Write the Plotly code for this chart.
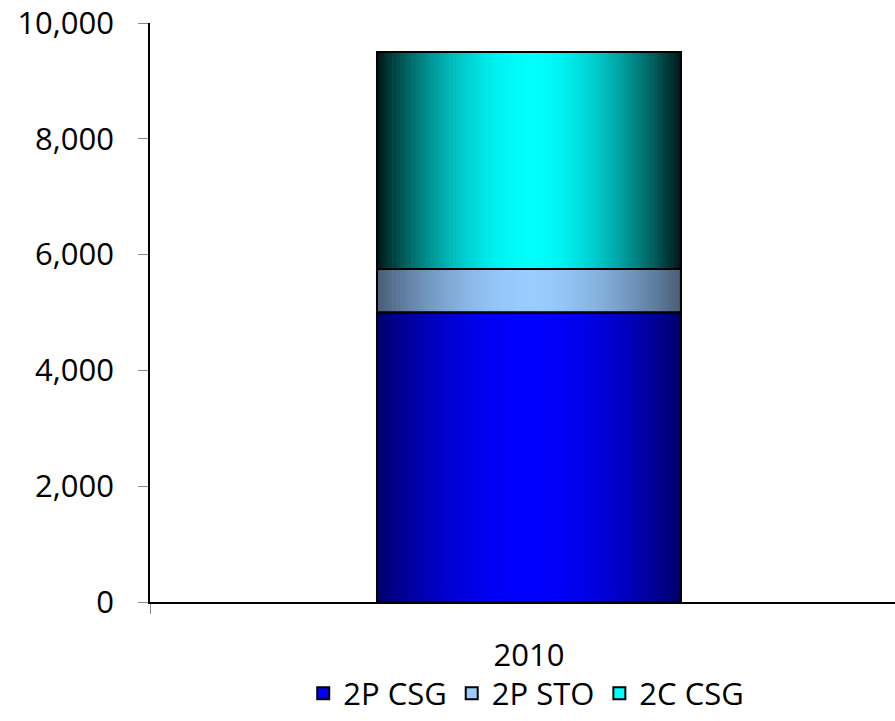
import numpy as np
import plotly.graph_objects as go

# data
categories = ["2010"]
series_names = ["2P CSG", "2P STO", "2C CSG"]
values = [5000, 750, 3750]
y_ticks = [0, 2000, 4000, 6000, 8000, 10000]
y_tick_labels = ["0", "2,000", "4,000", "6,000", "8,000", "10,000"]

# style: centre colour and edge colour of each horizontal gradient
centre_rgb = [(0, 0, 255), (153, 204, 255), (0, 255, 255)]
edge_rgb = [(0, 0, 105), (72, 92, 118), (0, 22, 22)]

BAR_W = 0.401
N_STRIPS = 80
FONT = "Open Sans"


def mix(c1, c2, t):
    return "rgb(%d,%d,%d)" % tuple(round(a * (1 - t) + b * t) for a, b in zip(c1, c2))


bases = np.concatenate([[0], np.cumsum(values)[:-1]])
step = BAR_W / N_STRIPS
offsets = [-BAR_W / 2 + k * step for k in range(N_STRIPS)]
pos = [(o + step / 2) / (BAR_W / 2) for o in offsets]  # -1 .. 1 across the bar

fig = go.Figure()

for name, v, b, c, e in zip(series_names, values, bases, centre_rgb, edge_rgb):
    # solid bar (carries the legend swatch)
    fig.add_trace(go.Bar(
        x=categories, y=[v], base=[b], name=name,
        width=BAR_W, offset=-BAR_W / 2,
        marker=dict(color=mix(c, c, 0), line=dict(color="black", width=2)),
        hoverinfo="skip",
    ))
    # gradient strips over it
    fig.add_trace(go.Bar(
        x=categories * N_STRIPS, y=[v] * N_STRIPS, base=[b] * N_STRIPS,
        offset=offsets, width=[step * 1.15] * N_STRIPS,
        marker=dict(color=[mix(c, e, abs(p) ** 1.8) for p in pos], line=dict(width=0)),
        showlegend=False, hoverinfo="skip",
    ))

# black outlines on top
for v, b in zip(values, bases):
    fig.add_trace(go.Bar(
        x=categories, y=[v], base=[b],
        width=BAR_W, offset=-BAR_W / 2,
        marker=dict(color="rgba(0,0,0,0)", line=dict(color="black", width=2)),
        showlegend=False, hoverinfo="skip",
    ))

fig.update_layout(
    width=895, height=721,
    barmode="overlay",
    plot_bgcolor="white", paper_bgcolor="white",
    margin=dict(l=150, r=0, t=23, b=119, autoexpand=False),
    font=dict(family=FONT, size=31, color="black"),
    legend=dict(
        orientation="h", x=0.505, xanchor="center", y=-0.158, yanchor="middle",
        font=dict(size=31), itemwidth=30, traceorder="normal",
    ),
)

fig.update_xaxes(
    type="category", range=[-0.5, 0.483],
    showline=True, linecolor="black", linewidth=1.5,
    ticks="outside", tickson="boundaries", ticklen=10, tickcolor="#888888",
    ticklabelstandoff=25, showgrid=False, zeroline=False,
)
fig.update_yaxes(
    range=[0, 10000], tickvals=y_ticks, ticktext=y_tick_labels,
    showline=True, linecolor="black", linewidth=1.5,
    ticks="outside", ticklen=10, tickcolor="#888888",
    ticklabelstandoff=18, showgrid=False, zeroline=False,
)

fig.write_html(
    "out.html",
    config={"displayModeBar": False},
    post_script="document.body.style.margin='0';document.body.style.overflow='hidden';",
)
